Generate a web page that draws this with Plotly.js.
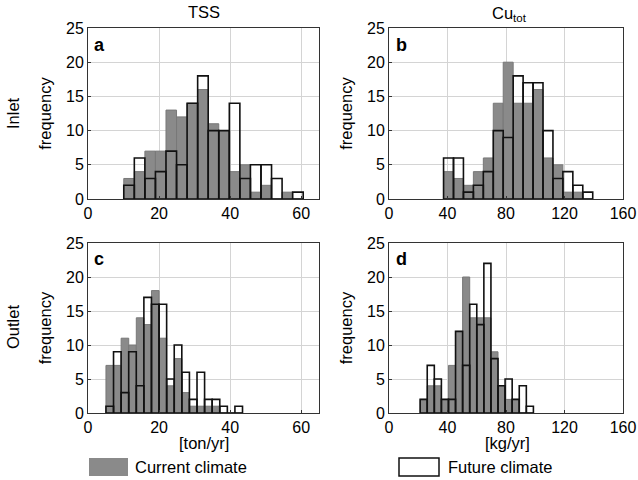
<!DOCTYPE html>
<html><head><meta charset="utf-8">
<script src="https://cdn.plot.ly/plotly-3.0.1.min.js"></script>
<style>html,body{margin:0;padding:0;background:#fff}#chart{width:638px;height:480px}</style>
</head><body><div id="chart"></div>
<script>
// ---- data (histogram counts) ----
const tssInletBins   = [11.55,14.52,17.49,20.46,23.43,26.40,29.37,32.34,35.31,38.28,41.25,44.22,47.19,50.16,53.13,56.10,59.07];
const tssInletCur    = [3,4,7,7,13,12,14,16,11,10,4,5,1,2,0,1,0];
const tssInletFut    = [2,6,3,4,7,5,14,18,10,10,14,3,5,5,3,0,1];

const cuInletBins    = [40.7,47.5,54.3,61.1,67.9,74.7,81.5,88.3,95.1,101.9,108.7,115.5,122.3,129.1,135.9];
const cuInletCur     = [4,3,2,4,6,14,20,14,14,16,6,5,1,1,0];
const cuInletFut     = [6,6,1,2,4,10,9,18,17,17,10,3,4,2,1];

const tssOutletBins  = [6.12,8.25,10.39,12.52,14.66,16.79,18.93,21.06,23.20,25.33,27.47,29.60,31.74,33.87,36.01,38.14,40.28,42.41];
const tssOutletCur   = [7,7,11,10,14,13,18,11,4,8,3,1,1,1,1,0,0,0];
const tssOutletFut   = [1,9,3,9,4,17,16,16,5,10,6,2,6,2,2,1,0,1];

const cuOutletBins   = [23.72,28.56,33.40,38.24,43.08,47.92,52.76,57.60,62.44,67.28,72.12,76.96,81.80,86.64,91.48,96.32];
const cuOutletCur    = [2,4,4,2,7,12,20,14,14,14,9,4,2,2,0,0];
const cuOutletFut    = [2,7,5,2,2,12,7,16,13,22,8,4,5,2,4,1];

const binWidths = {tssIn: 2.97, cuIn: 6.8, tssOut: 2.135, cuOut: 4.84};
const yTicks = [0,5,10,15,20,25];
const tssTicks = [0,20,40,60];
const cuTicks = [0,40,80,120,160];

// ---- styling ----
const FONT = 'Liberation Sans, Arial, sans-serif';
const GRAY = '#8a8a8a';
function curTrace(x,y,w,xa,ya){return {type:'bar',x:x,y:y,width:w,xaxis:xa,yaxis:ya,
  marker:{color:GRAY,line:{color:'#787878',width:1}},showlegend:false,hoverinfo:'skip'};}
function futTrace(x,y,w,xa,ya){return {type:'bar',x:x,y:y,width:w,xaxis:xa,yaxis:ya,
  marker:{color:'rgba(0,0,0,0)',line:{color:'#111',width:1.6}},showlegend:false,hoverinfo:'skip'};}

const data = [
  curTrace(tssInletBins,tssInletCur,binWidths.tssIn,'x','y'),
  futTrace(tssInletBins,tssInletFut,binWidths.tssIn,'x','y'),
  curTrace(cuInletBins,cuInletCur,binWidths.cuIn,'x2','y2'),
  futTrace(cuInletBins,cuInletFut,binWidths.cuIn,'x2','y2'),
  curTrace(tssOutletBins,tssOutletCur,binWidths.tssOut,'x3','y3'),
  futTrace(tssOutletBins,tssOutletFut,binWidths.tssOut,'x3','y3'),
  curTrace(cuOutletBins,cuOutletCur,binWidths.cuOut,'x4','y4'),
  futTrace(cuOutletBins,cuOutletFut,binWidths.cuOut,'x4','y4')
];

const W=638,H=480;
const leftDom=[88/W,319/W], rightDom=[389/W,623/W];
const topDom=[1-199/H,1-28/H], botDom=[1-413/H,1-243/H];

function xax(dom,anchor,range,ticks){return {domain:dom,anchor:anchor,range:range,tickvals:ticks,
  showgrid:true,gridcolor:'#d4d4d4',gridwidth:1,zeroline:false,showline:true,linecolor:'#333',linewidth:1,
  mirror:true,ticks:'inside',ticklen:3,tickcolor:'#333',tickfont:{family:FONT,size:16,color:'#000'}};}
function yax(dom,anchor){return {domain:dom,anchor:anchor,range:[0,25],tickvals:yTicks,
  showgrid:true,gridcolor:'#d4d4d4',gridwidth:1,zeroline:false,showline:true,linecolor:'#333',linewidth:1,
  mirror:true,ticks:'inside',ticklen:3,tickcolor:'#333',tickfont:{family:FONT,size:16,color:'#000'},
  title:{text:'frequency',font:{family:FONT,size:16.5,color:'#000'},standoff:10}};}

const ann = [];
function txt(t,x,y,opts){ann.push(Object.assign({text:t,x:x/W,y:1-y/H,xref:'paper',yref:'paper',showarrow:false,
  xanchor:'center',yanchor:'middle',font:{family:FONT,size:16.5,color:'#000'}},opts||{}));}
txt('TSS',204,12);
txt('Cu<sub>tot</sub>',510,14);
txt('Inlet',13,113,{textangle:-90});
txt('Outlet',13,327,{textangle:-90});
txt('<b>a</b>',92,45,{xanchor:'left',font:{family:FONT,size:18,color:'#000'}});
txt('<b>b</b>',394,45,{xanchor:'left',font:{family:FONT,size:18,color:'#000'}});
txt('<b>c</b>',92,259,{xanchor:'left',font:{family:FONT,size:18,color:'#000'}});
txt('<b>d</b>',394,259,{xanchor:'left',font:{family:FONT,size:18,color:'#000'}});
txt('[ton/yr]',204,443);
txt('[kg/yr]',507,443);
txt('Current climate',133,467,{xanchor:'left'});
txt('Future climate',446,467,{xanchor:'left'});

const shapes = [
  {type:'rect',xref:'paper',yref:'paper',x0:89/W,x1:128/W,y0:1-476/H,y1:1-458/H,fillcolor:GRAY,line:{width:0}},
  {type:'rect',xref:'paper',yref:'paper',x0:399/W,x1:439/W,y0:1-476/H,y1:1-458/H,fillcolor:'#fff',line:{color:'#111',width:1.5}}
];

const layout = {
  width:W,height:H,margin:{l:0,r:0,t:0,b:0},paper_bgcolor:'#fff',plot_bgcolor:'#fff',
  barmode:'overlay',bargap:0,showlegend:false,
  xaxis:xax(leftDom,'y',[0,65],tssTicks),
  yaxis:yax(topDom,'x'),
  xaxis2:xax(rightDom,'y2',[0,160],cuTicks),
  yaxis2:yax(topDom,'x2'),
  xaxis3:xax(leftDom,'y3',[0,65],tssTicks),
  yaxis3:yax(botDom,'x3'),
  xaxis4:xax(rightDom,'y4',[0,160],cuTicks),
  yaxis4:yax(botDom,'x4'),
  annotations:ann,shapes:shapes
};
Plotly.newPlot('chart',data,layout,{staticPlot:true,displayModeBar:false});
</script></body></html>
